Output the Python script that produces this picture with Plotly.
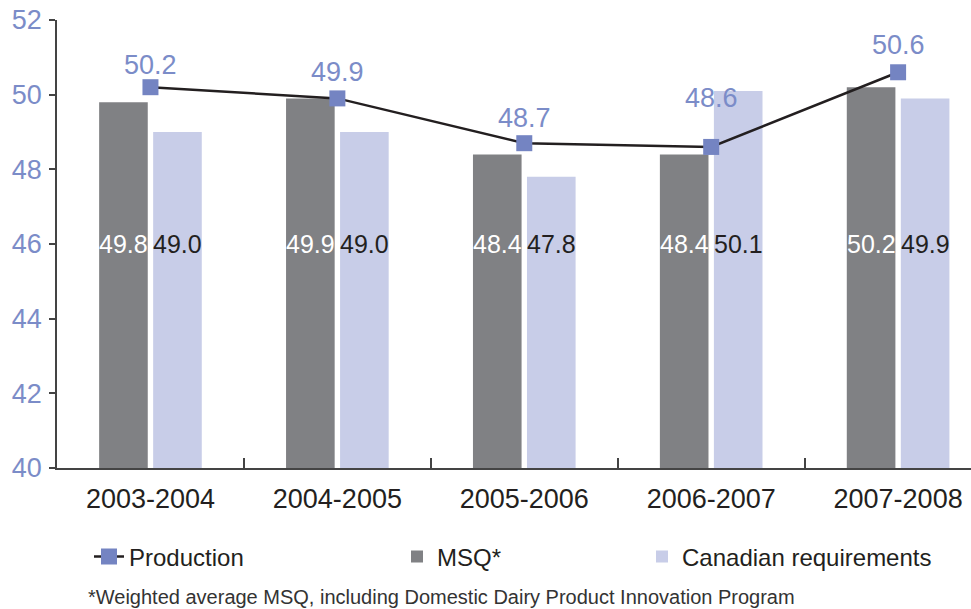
import plotly.graph_objects as go

# ---- data ----
seasons = ["2003-2004", "2004-2005", "2005-2006", "2006-2007", "2007-2008"]
production = [50.2, 49.9, 48.7, 48.6, 50.6]
msq = [49.8, 49.9, 48.4, 48.4, 50.2]
canadian = [49.0, 49.0, 47.8, 50.1, 49.9]
y_ticks = [40, 42, 44, 46, 48, 50, 52]

# ---- style ----
W, H = 971, 609
ML, MR, MT, MB = 57, 0, 20, 141
PW, PH = W - ML - MR, H - MT - MB
FONT = "Liberation Sans"
DARK = "#231f20"
BLUE_TXT = "#7b8cc8"
MARK = "#7484c2"
GRAY = "#808184"
LIGHT = "#c8cde8"
AXIS = "#444444"

def px_x(p):
    return (p - ML) / PW

def px_y(p):
    return (H - MB - p) / PH

fig = go.Figure()
fig.add_trace(go.Bar(x=seasons, y=[v - 40 for v in msq], base=40, name="MSQ*",
                     marker=dict(color=GRAY, line=dict(width=0)), legend="legend2",
                     hoverinfo="skip"))
fig.add_trace(go.Bar(x=seasons, y=[v - 40 for v in canadian], base=40, name="Canadian requirements",
                     marker=dict(color=LIGHT, line=dict(width=0)), legend="legend3",
                     hoverinfo="skip"))
fig.add_trace(go.Scatter(x=seasons, y=production, name="Production", mode="lines+markers",
                         line=dict(color=DARK, width=2.5),
                         marker=dict(symbol="square", size=16, color=MARK),
                         legend="legend"))

annotations = []
# bar value labels
for s, m, c in zip(seasons, msq, canadian):
    annotations.append(dict(x=s, y=46, text=f"{m:.1f}", showarrow=False, xshift=-27,
                            font=dict(family=FONT, size=25, color="white")))
    annotations.append(dict(x=s, y=46, text=f"{c:.1f}", showarrow=False, xshift=27,
                            font=dict(family=FONT, size=25, color=DARK)))
# production labels
label_shift = [22, 26, 25, 49, 27]
for s, p, sh in zip(seasons, production, label_shift):
    annotations.append(dict(x=s, y=p, text=f"{p:.1f}", showarrow=False, yshift=sh,
                            font=dict(family=FONT, size=27, color=BLUE_TXT)))
# footnote
annotations.append(dict(xref="paper", yref="paper", x=px_x(86), y=px_y(597),
                        xanchor="left", yanchor="middle", showarrow=False,
                        text="*Weighted average MSQ, including Domestic Dairy Product Innovation Program",
                        font=dict(family=FONT, size=20, color="#333333")))

leg_font = dict(family=FONT, size=24, color=DARK)
def leg(xpx):
    return dict(x=px_x(xpx), y=px_y(557), xanchor="left", yanchor="middle",
                orientation="h", font=leg_font, bgcolor="rgba(0,0,0,0)")

fig.update_layout(
    width=W, height=H,
    margin=dict(l=ML, r=MR, t=MT, b=MB),
    paper_bgcolor="white", plot_bgcolor="white",
    barmode="group", bargap=0.422, bargroupgap=0.1,
    font=dict(family=FONT, color=DARK),
    showlegend=True,
    legend=leg(89),
    legend2=leg(397),
    legend3=leg(642),
    annotations=annotations,
    xaxis=dict(type="category", range=[-0.5, 4.39], showline=True, linecolor=AXIS, linewidth=1.5,
               ticks="inside", tickson="boundaries", ticklen=10, tickcolor=AXIS, tickwidth=1.5,
               showgrid=False, tickfont=dict(family=FONT, size=27, color=DARK),
               ticklabelstandoff=6),
    yaxis=dict(range=[40, 52], tickvals=y_ticks, showline=True, linecolor=AXIS, linewidth=1.5,
               ticks="outside", ticklen=6, tickcolor=AXIS, tickwidth=1.5, showgrid=False,
               zeroline=False, tickfont=dict(family=FONT, size=27, color=BLUE_TXT),
               ticklabelstandoff=2),
)

fig.write_html("out.html")
